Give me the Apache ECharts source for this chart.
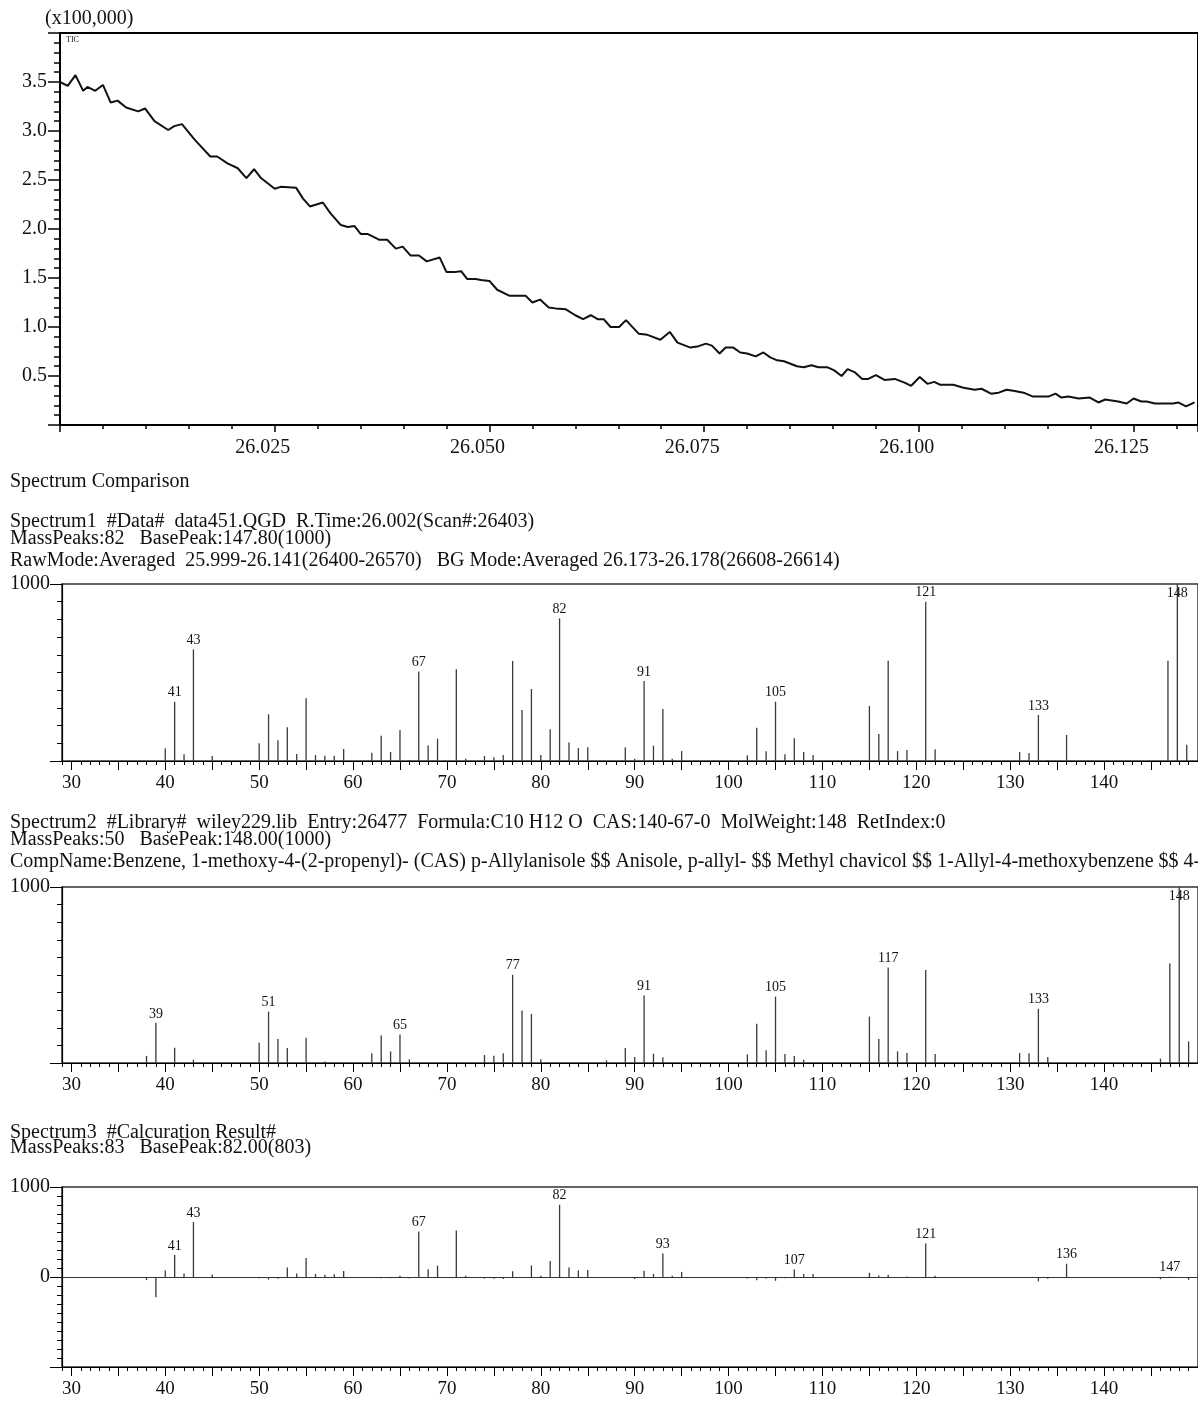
<!DOCTYPE html>
<html>
<head>
<meta charset="utf-8">
<script src="https://cdn.jsdelivr.net/npm/echarts@6/dist/echarts.min.js"></script>
<style>
  html, body { margin: 0; padding: 0; background: #fff; }
  #chart { width: 1198px; height: 1402px; }
</style>
</head>
<body>
<div id="chart"></div>
<script>
// TIC trace: retention time (min) and intensity (x100,000)
const ticTime = [
  26.0000, 26.0009, 26.0018, 26.0027, 26.0032, 26.0041, 26.0050, 26.0059, 26.0067, 26.0077,
  26.0091, 26.0099, 26.0110, 26.0126, 26.0133, 26.0142, 26.0157, 26.0175, 26.0183, 26.0195,
  26.0207, 26.0217, 26.0226, 26.0234, 26.0250, 26.0257, 26.0275, 26.0283, 26.0291, 26.0306,
  26.0315, 26.0327, 26.0335, 26.0343, 26.0350, 26.0358, 26.0372, 26.0381, 26.0391, 26.0399,
  26.0408, 26.0418, 26.0427, 26.0442, 26.0450, 26.0459, 26.0467, 26.0474, 26.0484, 26.0490,
  26.0500, 26.0509, 26.0523, 26.0533, 26.0542, 26.0550, 26.0559, 26.0569, 26.0577, 26.0589,
  26.0600, 26.0609, 26.0618, 26.0626, 26.0633, 26.0641, 26.0651, 26.0659, 26.0674, 26.0684,
  26.0699, 26.0710, 26.0719, 26.0734, 26.0742, 26.0752, 26.0759, 26.0768, 26.0775, 26.0784,
  26.0792, 26.0800, 26.0810, 26.0819, 26.0827, 26.0835, 26.0843, 26.0858, 26.0866, 26.0875,
  26.0883, 26.0893, 26.0901, 26.0910, 26.0917, 26.0925, 26.0934, 26.0941, 26.0950, 26.0960,
  26.0972, 26.0984, 26.0991, 26.1001, 26.1010, 26.1018, 26.1025, 26.1040, 26.1052, 26.1065,
  26.1073, 26.1084, 26.1093, 26.1102, 26.1110, 26.1122, 26.1133, 26.1151, 26.1159, 26.1166,
  26.1174, 26.1186, 26.1199, 26.1209, 26.1217, 26.1232, 26.1242, 26.1250, 26.1259, 26.1265,
  26.1275, 26.1296, 26.1302, 26.1311, 26.1321
];
const ticValue = [
  3.50, 3.46, 3.57, 3.41, 3.45, 3.41, 3.47, 3.29, 3.31, 3.24,
  3.20, 3.23, 3.10, 3.01, 3.05, 3.07, 2.91, 2.74, 2.74, 2.67,
  2.62, 2.52, 2.61, 2.52, 2.41, 2.43, 2.42, 2.31, 2.23, 2.27,
  2.16, 2.04, 2.02, 2.03, 1.95, 1.95, 1.89, 1.89, 1.80, 1.82,
  1.73, 1.73, 1.67, 1.71, 1.56, 1.56, 1.57, 1.49, 1.49, 1.48,
  1.47, 1.38, 1.32, 1.32, 1.32, 1.25, 1.28, 1.20, 1.19, 1.18,
  1.12, 1.08, 1.12, 1.08, 1.08, 1.00, 1.00, 1.07, 0.93, 0.92,
  0.87, 0.95, 0.84, 0.79, 0.80, 0.83, 0.81, 0.73, 0.79, 0.79,
  0.74, 0.73, 0.70, 0.74, 0.69, 0.66, 0.65, 0.60, 0.59, 0.61,
  0.59, 0.59, 0.56, 0.50, 0.57, 0.54, 0.47, 0.47, 0.51, 0.46,
  0.47, 0.43, 0.40, 0.49, 0.42, 0.44, 0.41, 0.41, 0.38, 0.36,
  0.37, 0.32, 0.33, 0.36, 0.35, 0.33, 0.29, 0.29, 0.32, 0.28,
  0.29, 0.27, 0.28, 0.23, 0.26, 0.24, 0.22, 0.27, 0.24, 0.24,
  0.22, 0.22, 0.23, 0.19, 0.23
];
const ticYTicks = [0.5, 1.0, 1.5, 2.0, 2.5, 3.0, 3.5];

// Spectrum1: measured data
const s1Mz = [40, 41, 42, 43, 45, 50, 51, 52, 53, 54, 55, 56, 57, 58, 59, 62, 63, 64, 65, 66,
  67, 68, 69, 71, 72, 74, 75, 76, 77, 78, 79, 80, 81, 82, 83, 84, 85, 89, 90, 91,
  92, 93, 94, 95, 102, 103, 104, 105, 106, 107, 108, 109, 115, 116, 117, 118, 119, 121, 122, 131,
  132, 133, 134, 136, 146.8, 147.8, 148.8];
const s1Int = [72, 335, 38, 631, 28, 100, 264, 117, 190, 40, 354, 34, 30, 30, 68, 47, 142, 51, 175, 6,
  505, 87, 126, 518, 13, 28, 21, 34, 565, 288, 407, 34, 179, 806, 105, 73, 77, 77, 13, 452,
  87, 294, 13, 56, 32, 188, 55, 335, 38, 128, 51, 34, 311, 153, 567, 56, 62, 900, 66, 51,
  45, 260, 6, 147, 567, 1000, 92];
const s1Labels = [41, 43, 67, 82, 91, 105, 121, 133, 147.8];

// Spectrum2: library entry
const s2Mz = [38, 39, 41, 43, 50, 51, 52, 53, 55, 57, 62, 63, 64, 65, 66, 74, 75, 76, 77, 78,
  79, 80, 87, 89, 90, 91, 92, 93, 102, 103, 104, 105, 106, 107, 108, 115, 116, 117, 118, 119,
  121, 122, 131, 132, 133, 134, 146, 147, 148, 149];
const s2Int = [40, 228, 87, 19, 115, 292, 137, 85, 143, 9, 56, 156, 66, 162, 21, 45, 41, 55, 501, 298,
  279, 21, 15, 85, 34, 383, 53, 32, 49, 223, 72, 377, 51, 40, 19, 264, 136, 542, 66, 57,
  528, 51, 57, 55, 308, 34, 25, 566, 1000, 123];
const s2Labels = [39, 51, 65, 77, 91, 105, 117, 133, 148];

// Spectrum3: calculation result
const s3Mz = [38, 39, 40, 41, 42, 43, 45, 50, 51, 52, 53, 54, 55, 56, 57, 58, 59, 62, 63, 64,
  65, 66, 67, 68, 69, 71, 72, 74, 75, 76, 77, 78, 79, 80, 81, 82, 83, 84, 85, 89,
  90, 91, 92, 93, 94, 95, 102, 103, 104, 105, 106, 107, 108, 109, 115, 116, 117, 118, 119, 121,
  122, 131, 132, 133, 134, 136, 146, 147, 149];
const s3Int = [-35, -225, 72, 245, 38, 612, 28, -15, -28, -20, 105, 40, 211, 34, 25, 30, 68, -9, -15, -13,
  13, -15, 505, 87, 126, 518, 13, -17, -20, -21, 64, -10, 128, 13, 179, 803, 105, 73, 77, -8,
  -21, 69, 34, 262, 13, 56, -17, -35, -17, -42, -13, 84, 32, 34, 47, 17, 25, -10, 5, 372,
  15, -6, -10, -48, -20, 147, -25, 4, -31];
const s3Labels = [41, 43, 67, 82, 93, 107, 121, 136, 147];

const massTicks = [30, 35, 40, 45, 50, 55, 60, 65, 70, 75, 80, 85, 90, 95, 100, 105, 110, 115,
  120, 125, 130, 135, 140, 145];
const massLabels = [30, 40, 50, 60, 70, 80, 90, 100, 110, 120, 130, 140];

const headerLines = [
  { text: '(x100,000)', x: 45, y: 19 },
  { text: 'Spectrum Comparison', x: 10, y: 482 },
  { text: 'Spectrum1  #Data#  data451.QGD  R.Time:26.002(Scan#:26403)', x: 10, y: 522 },
  { text: 'MassPeaks:82   BasePeak:147.80(1000)', x: 10, y: 539 },
  { text: 'RawMode:Averaged  25.999-26.141(26400-26570)   BG Mode:Averaged 26.173-26.178(26608-26614)', x: 10, y: 561 },
  { text: 'Spectrum2  #Library#  wiley229.lib  Entry:26477  Formula:C10 H12 O  CAS:140-67-0  MolWeight:148  RetIndex:0', x: 10, y: 823 },
  { text: 'MassPeaks:50   BasePeak:148.00(1000)', x: 10, y: 840 },
  { text: 'CompName:Benzene, 1-methoxy-4-(2-propenyl)- (CAS) p-Allylanisole $$ Anisole, p-allyl- $$ Methyl chavicol $$ 1-Allyl-4-methoxybenzene $$ 4-Allylanisole', x: 10, y: 862 },
  { text: 'Spectrum3  #Calcuration Result#', x: 10, y: 1133 },
  { text: 'MassPeaks:83   BasePeak:82.00(803)', x: 10, y: 1148 }
];

const SERIF = "'Liberation Serif', 'Times New Roman', serif";
const INK = '#111';

const chart = echarts.init(document.getElementById('chart'));

function peakData(mz, intensity, labeled) {
  return mz.map((m, i) => {
    const item = { value: [m, intensity[i]] };
    if (labeled.includes(m)) {
      const label = String(Math.round(m));
      item.label = intensity[i] >= 990
        ? { show: true, position: 'insideTop', distance: 2, formatter: label }
        : { show: true, position: 'top', distance: 2, formatter: label };
    }
    return item;
  });
}

// two x axes per spectrum: fine unit ticks + longer ticks / labels every 5 / 10
function massAxes(grid) {
  return [
    {
      type: 'value', gridIndex: grid, min: 29, max: 150, interval: 1,
      axisLine: { onZero: false, lineStyle: { color: '#000', width: 1.2 } },
      axisTick: { length: 4, lineStyle: { color: '#000' } },
      axisLabel: { show: false },
      splitLine: { show: false }
    },
    {
      type: 'value', gridIndex: grid, min: 29, max: 150, position: 'bottom',
      axisLine: { show: false, onZero: false },
      axisTick: { length: 9, customValues: massTicks, lineStyle: { color: '#000' } },
      axisLabel: { customValues: massLabels, margin: 13, fontSize: 19, fontFamily: SERIF, color: INK },
      splitLine: { show: false }
    }
  ];
}

function intensityAxis(grid, min) {
  return {
    type: 'value', gridIndex: grid, min: min, max: 1000, interval: 1000,
    axisLine: { show: true, lineStyle: { color: '#000', width: 1.2 } },
    axisTick: { show: true, length: 12, lineStyle: { color: '#000' } },
    minorTick: { show: true, splitNumber: 10, length: 5, lineStyle: { color: '#000' } },
    axisLabel: {
      showMinLabel: false, margin: 12, fontSize: 20, fontFamily: SERIF, color: INK,
      formatter: (v) => String(v)
    },
    splitLine: { show: false }
  };
}

const barBase = {
  type: 'bar',
  barWidth: 1.3,
  itemStyle: { color: '#3a3a3a' },
  label: { fontSize: 14, fontFamily: SERIF, color: INK },
  silent: true
};

const frame = { show: true, borderColor: '#333', borderWidth: 1.5, backgroundColor: 'transparent' };

chart.setOption({
  animation: false,
  backgroundColor: '#fff',
  grid: [
    { left: 60, top: 33, width: 1140, height: 392, show: true, borderColor: '#000', borderWidth: 2, backgroundColor: 'transparent' },
    Object.assign({ left: 62, top: 584, width: 1138, height: 177 }, frame),
    Object.assign({ left: 62, top: 887, width: 1138, height: 176 }, frame),
    Object.assign({ left: 62, top: 1187, width: 1138, height: 180 }, frame)
  ],
  xAxis: [
    {
      type: 'value', gridIndex: 0, min: 26.0, max: 26.1325, interval: 0.025,
      axisLine: { lineStyle: { color: '#000', width: 2 } },
      axisTick: { length: 7, lineStyle: { color: '#000', width: 1.5 } },
      minorTick: { show: true, splitNumber: 5, length: 4, lineStyle: { color: '#000', width: 1.5 } },
      axisLabel: {
        showMinLabel: false, showMaxLabel: false, margin: 13, padding: [0, 24, 0, 0],
        fontSize: 20, fontFamily: SERIF, color: INK,
        formatter: (v) => v.toFixed(3)
      },
      splitLine: { show: false }
    },
    ...massAxes(1),
    ...massAxes(2),
    ...massAxes(3)
  ],
  yAxis: [
    {
      type: 'value', gridIndex: 0, min: 0, max: 4, interval: 0.5,
      axisLine: { show: true, lineStyle: { color: '#000', width: 2 } },
      axisTick: { show: true, length: 12, lineStyle: { color: '#000', width: 1.5 } },
      minorTick: { show: true, splitNumber: 5, length: 6, lineStyle: { color: '#000', width: 1.5 } },
      axisLabel: {
        margin: 13, fontSize: 20, fontFamily: SERIF, color: INK,
        customValues: ticYTicks,
        formatter: (v) => v.toFixed(1)
      },
      splitLine: { show: false }
    },
    intensityAxis(1, 0),
    intensityAxis(2, 0),
    intensityAxis(3, -1000)
  ],
  series: [
    {
      type: 'line', xAxisIndex: 0, yAxisIndex: 0,
      data: ticTime.map((t, i) => [t, ticValue[i]]),
      symbol: 'none',
      lineStyle: { color: '#111', width: 2 },
      silent: true
    },
    Object.assign({}, barBase, { xAxisIndex: 1, yAxisIndex: 1, data: peakData(s1Mz, s1Int, s1Labels) }),
    Object.assign({}, barBase, { xAxisIndex: 3, yAxisIndex: 2, data: peakData(s2Mz, s2Int, s2Labels) }),
    Object.assign({}, barBase, {
      xAxisIndex: 5, yAxisIndex: 3, data: peakData(s3Mz, s3Int, s3Labels),
      markLine: {
        silent: true, symbol: ['none', 'none'],
        label: { show: false },
        lineStyle: { color: '#333', type: 'solid', width: 1 },
        data: [{ yAxis: 0 }]
      }
    })
  ],
  graphic: [
    ...headerLines.map((h) => ({
      type: 'text', x: h.x, y: h.y,
      style: { text: h.text, font: '20px ' + SERIF, fill: INK, verticalAlign: 'middle' }
    })),
    {
      type: 'text', x: 66, y: 40,
      style: { text: 'TIC', font: '8px ' + SERIF, fill: INK, verticalAlign: 'middle' }
    }
  ]
});
</script>
</body>
</html>
